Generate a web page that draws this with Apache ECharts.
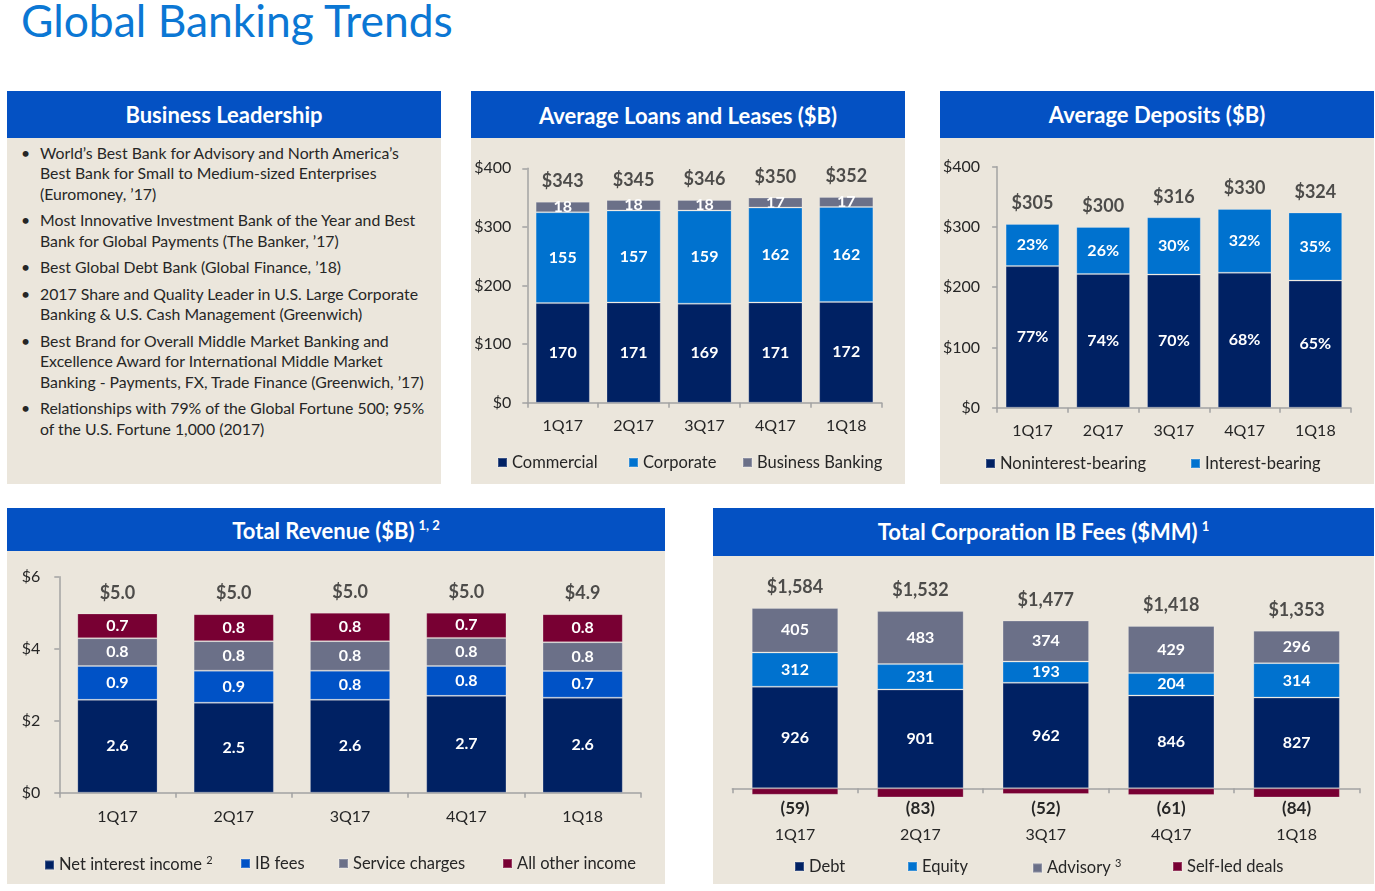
<!DOCTYPE html>
<html>
<head>
<meta charset="utf-8">
<script src="https://cdn.jsdelivr.net/npm/echarts/dist/echarts.min.js"></script>
<style>
  html, body { margin:0; padding:0; background:#ffffff; }
  body { width:1375px; height:891px; position:relative; overflow:hidden; font-family:Lato, "Noto Sans", sans-serif; }
  .title { position:absolute; left:21px; top:-2px; font-size:44.4px; line-height:44px; color:#0b77d4; white-space:nowrap; }
  .head { position:absolute; background:#0451c3; color:#ffffff; font-weight:bold; font-size:22px; text-align:center; white-space:nowrap; }
  .head sup { font-size:13px; vertical-align:top; position:relative; top:-5px; margin-left:4px; }
  .body { position:absolute; background:#ebe6dc; }
  .bullets { position:absolute; left:40px; top:143px; font-size:15.8px; line-height:20.3px; color:#262626; white-space:nowrap; }
  .bullets p { margin:0 0 6.4px 0; position:relative; }
  .bullets p::before { content:"\2022"; position:absolute; left:-19px; top:0; }
  .chart { position:absolute; }
</style>
</head>
<body>
<div class="title">Global Banking Trends</div>

<div class="head" style="left:7px;top:91px;width:434px;height:47px;line-height:47px;">Business Leadership</div>
<div class="body" style="left:7px;top:138px;width:434px;height:346px;"></div>
<div class="bullets">
  <p>World’s Best Bank for Advisory and North America’s<br>Best Bank for Small to Medium-sized Enterprises<br>(Euromoney, ’17)</p>
  <p>Most Innovative Investment Bank of the Year and Best<br>Bank for Global Payments (The Banker, ’17)</p>
  <p>Best Global Debt Bank (Global Finance, ’18)</p>
  <p>2017 Share and Quality Leader in U.S. Large Corporate<br>Banking &amp; U.S. Cash Management (Greenwich)</p>
  <p>Best Brand for Overall Middle Market Banking and<br>Excellence Award for International Middle Market<br>Banking - Payments, FX, Trade Finance (Greenwich, ’17)</p>
  <p>Relationships with 79% of the Global Fortune 500; 95%<br>of the U.S. Fortune 1,000 (2017)</p>
</div>

<div class="head" style="left:471px;top:91px;width:434px;height:47px;line-height:50px;">Average Loans and Leases ($B)</div>
<div class="body" style="left:471px;top:138px;width:434px;height:346px;"></div>
<div id="c2" class="chart" style="left:471px;top:138px;width:434px;height:346px;"></div>

<div class="head" style="left:940px;top:91px;width:434px;height:47px;line-height:47px;">Average Deposits ($B)</div>
<div class="body" style="left:940px;top:138px;width:434px;height:346px;"></div>
<div id="c3" class="chart" style="left:940px;top:138px;width:434px;height:346px;"></div>

<div class="head" style="left:7px;top:508px;width:658px;height:43px;line-height:45px;">Total Revenue ($B)<sup>1, 2</sup></div>
<div class="body" style="left:7px;top:551px;width:658px;height:333px;"></div>
<div id="c4" class="chart" style="left:7px;top:551px;width:658px;height:333px;"></div>

<div class="head" style="left:713px;top:508px;width:661px;height:48px;line-height:47px;">Total Corporation IB Fees ($MM)<sup>1</sup></div>
<div class="body" style="left:713px;top:556px;width:661px;height:328px;"></div>
<div id="c5" class="chart" style="left:713px;top:556px;width:661px;height:328px;"></div>

<script>
// ---------- data ----------
const quarters = ['1Q17', '2Q17', '3Q17', '4Q17', '1Q18'];

// Average Loans and Leases ($B)
const loansCommercial = [170, 171, 169, 171, 172];
const loansCorporate = [155, 157, 159, 162, 162];
const loansBusinessBanking = [18, 18, 18, 17, 17];
const loansTotal = [343, 345, 346, 350, 352];

// Average Deposits ($B)
const depNoninterest = [235, 222, 221, 224, 211];
const depInterest = [70, 78, 95, 106, 113];
const depNoninterestPct = [77, 74, 70, 68, 65];
const depInterestPct = [23, 26, 30, 32, 35];
const depTotal = [305, 300, 316, 330, 324];

// Total Revenue ($B)
const revNetInterest = [2.58, 2.50, 2.58, 2.69, 2.64];
const revIBFees = [0.94, 0.89, 0.81, 0.83, 0.74];
const revServiceCharges = [0.77, 0.82, 0.82, 0.78, 0.80];
const revAllOther = [0.69, 0.75, 0.79, 0.70, 0.78];
const revTotal = [5.0, 5.0, 5.0, 5.0, 4.9];

// Total Corporation IB Fees ($MM)
const ibDebt = [926, 901, 962, 846, 827];
const ibEquity = [312, 231, 193, 204, 314];
const ibAdvisory = [405, 483, 374, 429, 296];
const ibSelfLed = [-59, -83, -52, -61, -84];
const ibTotal = [1584, 1532, 1477, 1418, 1353];

// ---------- styling ----------
const FONT = 'Lato, "Noto Sans", sans-serif';
const NAVY = '#002163';
const BLUE = '#0072cf';
const ROYAL = '#0052c6';
const GRAY = '#6b7088';
const MAROON = '#780033';
const AXIS = '#a3a3a3';
const TEXT = '#262626';

function barSeries(name, data, color, width, fmt) {
  return {
    type: 'bar', name: name, data: data, stack: 'total', barWidth: width,
    itemStyle: { color: color, borderColor: 'rgba(255,255,255,0.22)', borderWidth: 1 },
    label: { show: true, position: 'inside', color: '#ffffff', fontFamily: FONT, fontWeight: 'bold', fontSize: 16,
      formatter: fmt || (p => String(p.value)) },
    emphasis: { disabled: true }, silent: true
  };
}
function totalSeries(tops, labels, fmt) {
  return {
    type: 'scatter', data: tops, symbolSize: 1, itemStyle: { color: 'rgba(0,0,0,0)' }, silent: true, z: 5,
    label: { show: true, position: 'top', distance: 11, color: TEXT, fontFamily: FONT, fontWeight: 'bold', fontSize: 18,
      formatter: p => fmt(labels[p.dataIndex]) }
  };
}
function legendItem(name, left, top, sup) {
  return {
    data: [name], left: left, top: top, padding: 0, itemWidth: 9, itemHeight: 9, icon: 'rect', selectedMode: false,
    formatter: n => sup ? '{t|' + n + '} {s|' + sup + '}' : '{t|' + n + '}',
    textStyle: { fontFamily: FONT, fontSize: 16.5, color: TEXT,
      rich: { t: { fontFamily: FONT, fontSize: 16.5, color: TEXT }, s: { fontFamily: FONT, fontSize: 11, color: TEXT, padding: [0, 0, 9, 0] } } }
  };
}
function catAxis(margin, extra) {
  return Object.assign({
    type: 'category', data: quarters,
    axisLine: { show: true, lineStyle: { color: AXIS, width: 1.5 } },
    axisTick: { show: true, length: 5, lineStyle: { color: AXIS, width: 1.5 } },
    axisLabel: { margin: margin, fontFamily: FONT, fontSize: 16, color: TEXT }
  }, extra || {});
}
function valAxis(max, interval, margin) {
  return {
    type: 'value', min: 0, max: max, interval: interval,
    axisLine: { show: true, lineStyle: { color: AXIS, width: 1.5 } },
    axisTick: { show: true, length: 5, lineStyle: { color: AXIS, width: 1.5 } },
    splitLine: { show: false },
    axisLabel: { margin: margin, fontFamily: FONT, fontSize: 16, color: TEXT, formatter: v => '$' + v }
  };
}

// ---------- chart 2: loans ----------
const c2 = echarts.init(document.getElementById('c2'), null, { renderer: 'canvas' });
c2.setOption({
  animation: false,
  grid: { left: 56.3, right: 23.3, top: 30.3, bottom: 81.3 },
  xAxis: catAxis(15),
  yAxis: valAxis(400, 100, 16),
  legend: [
    legendItem('Commercial', 26, 316),
    legendItem('Corporate', 157, 316),
    legendItem('Business Banking', 271, 316)
  ],
  series: [
    barSeries('Commercial', loansCommercial, NAVY, '76.5%'),
    barSeries('Corporate', loansCorporate, BLUE, '76.5%'),
    barSeries('Business Banking', loansBusinessBanking, GRAY, '76.5%'),
    totalSeries(loansTotal, loansTotal, v => '$' + v)
  ]
});

// ---------- chart 3: deposits ----------
const c3 = echarts.init(document.getElementById('c3'), null, { renderer: 'canvas' });
c3.setOption({
  animation: false,
  grid: { left: 56.7, right: 23.3, top: 28.7, bottom: 76.3 },
  xAxis: catAxis(15.5),
  yAxis: valAxis(400, 100, 17),
  legend: [
    legendItem('Noninterest-bearing', 45, 317),
    legendItem('Interest-bearing', 250, 317)
  ],
  series: [
    barSeries('Noninterest-bearing', depNoninterest, NAVY, '76%', p => depNoninterestPct[p.dataIndex] + '%'),
    barSeries('Interest-bearing', depInterest, BLUE, '76%', p => depInterestPct[p.dataIndex] + '%'),
    totalSeries(depTotal, depTotal, v => '$' + v)
  ]
});

// ---------- chart 4: revenue ----------
const revTops = revNetInterest.map((v, i) => v + revIBFees[i] + revServiceCharges[i] + revAllOther[i]);
const c4 = echarts.init(document.getElementById('c4'), null, { renderer: 'canvas' });
c4.setOption({
  animation: false,
  grid: { left: 52.3, right: 24.2, top: 25.7, bottom: 91.3 },
  xAxis: catAxis(16),
  yAxis: valAxis(6, 2, 19),
  legend: [
    legendItem('Net interest income', 37, 304, '2'),
    legendItem('IB fees', 233, 304),
    legendItem('Service charges', 331, 304),
    legendItem('All other income', 495, 304)
  ],
  series: [
    barSeries('Net interest income', revNetInterest, NAVY, '69%', p => p.value.toFixed(1)),
    barSeries('IB fees', revIBFees, ROYAL, '69%', p => p.value.toFixed(1)),
    barSeries('Service charges', revServiceCharges, GRAY, '69%', p => p.value.toFixed(1)),
    barSeries('All other income', revAllOther, MAROON, '69%', p => p.value.toFixed(1)),
    totalSeries(revTops, revTotal, v => '$' + v.toFixed(1))
  ]
});

// ---------- chart 5: IB fees ----------
const ibTops = ibDebt.map((v, i) => v + ibEquity[i] + ibAdvisory[i]);
const c5 = echarts.init(document.getElementById('c5'), null, { renderer: 'canvas' });
const selfLed = barSeries('Self-led deals', ibSelfLed, MAROON, '69%');
selfLed.label = { show: false };
selfLed.clip = false;
c5.setOption({
  animation: false,
  grid: { left: 19.3, right: 14.7, top: 45.8, bottom: 95.7 },
  xAxis: catAxis(10, {
    axisLabel: {
      margin: 10, color: TEXT, fontFamily: FONT,
      formatter: (v, i) => '{n|(' + Math.abs(ibSelfLed[i]) + ')}\n{q|' + v + '}',
      rich: {
        n: { fontFamily: FONT, fontWeight: 'bold', fontSize: 17, color: TEXT, lineHeight: 20 },
        q: { fontFamily: FONT, fontSize: 16, color: TEXT, lineHeight: 34 }
      }
    }
  }),
  yAxis: { type: 'value', show: false, min: 0, max: 1700, splitLine: { show: false } },
  legend: [
    legendItem('Debt', 81, 302),
    legendItem('Equity', 194, 302),
    legendItem('Advisory', 319, 302, '3'),
    legendItem('Self-led deals', 459, 302)
  ],
  series: [
    barSeries('Debt', ibDebt, NAVY, '69%'),
    barSeries('Equity', ibEquity, BLUE, '69%'),
    barSeries('Advisory', ibAdvisory, GRAY, '69%'),
    selfLed,
    totalSeries(ibTops, ibTotal, v => '$' + v.toLocaleString('en-US'))
  ]
});
</script>
</body>
</html>
